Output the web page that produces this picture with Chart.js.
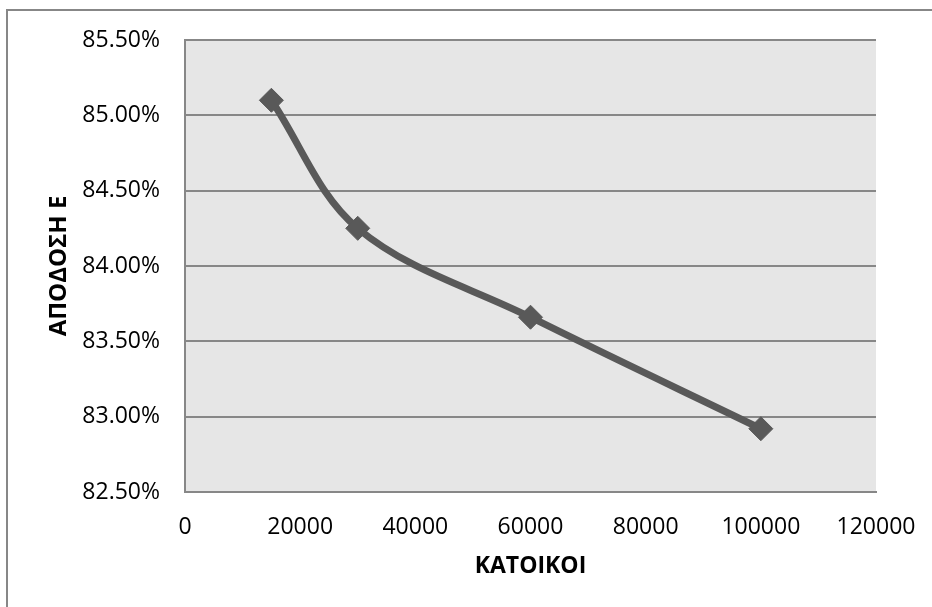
<!DOCTYPE html>
<html>
<head>
<meta charset="utf-8">
<title>ΑΠΟΔΟΣΗ Ε - ΚΑΤΟΙΚΟΙ</title>
<script src="https://cdn.jsdelivr.net/npm/chart.js@4.4.1/dist/chart.umd.min.js"></script>
<style>
    body { margin: 0; background: #fff; overflow: hidden; }
    #marco {
        position: absolute; left: 6px; top: 9px; width: 1000px; height: 700px;
        border-left: 2px solid #878787; border-top: 2px solid #878787;
    }
    #grafico { position: absolute; left: 0; top: 0; }
</style>
</head>
<body>
<div id="marco"></div>
<canvas id="grafico" width="932" height="607"></canvas>
<script>
// datos
const katoikoi = [15000, 30000, 60000, 100000];
const apodosi = [85.10, 84.25, 83.66, 82.92];
const xTicks = [0, 20000, 40000, 60000, 80000, 100000, 120000];
const yTicks = [82.5, 83.0, 83.5, 84.0, 84.5, 85.0, 85.5];

const fuente = "'Open Sans', 'Liberation Sans', sans-serif";
const gris = '#878787';

// fondo gris del area de trazado
const fondoArea = {
    id: 'fondoArea',
    beforeDraw(chart) {
        const a = chart.chartArea;
        const c = chart.ctx;
        c.save();
        c.fillStyle = '#e6e6e6';
        c.fillRect(a.left, a.top, a.right - a.left, a.bottom - a.top);
        c.restore();
    }
};

const ctx = document.getElementById('grafico').getContext('2d');

new Chart(ctx, {
    type: 'line',
    data: {
        datasets: [{
            label: 'ΑΠΟΔΟΣΗ Ε',
            data: katoikoi.map((x, i) => ({ x: x, y: apodosi[i] })),
            borderColor: '#595959',
            backgroundColor: '#595959',
            borderWidth: 7,
            tension: 0.35,
            pointStyle: 'rectRot',
            pointRadius: 12,
            pointBorderWidth: 1,
            pointHoverRadius: 12
        }]
    },
    options: {
        responsive: false,
        devicePixelRatio: 1,
        animation: false,
        layout: {
            padding: { left: 0, top: 40, right: 56, bottom: 0 }
        },
        plugins: {
            legend: { display: false },
            tooltip: { enabled: false }
        },
        scales: {
            x: {
                type: 'linear',
                min: xTicks[0],
                max: xTicks[xTicks.length - 1],
                afterFit: s => {
                    s.height = 115;
                    s.paddingLeft = 0;
                    s.paddingRight = 0;
                },
                afterBuildTicks: s => { s.ticks = xTicks.map(v => ({ value: v })); },
                grid: { display: false, drawTicks: false },
                border: { display: true, color: gris, width: 2 },
                ticks: {
                    padding: 22,
                    color: '#000',
                    font: { family: fuente, size: 23 },
                    callback: v => String(v)
                },
                title: {
                    display: true,
                    text: 'ΚΑΤΟΙΚΟΙ',
                    color: '#000',
                    font: { family: fuente, size: 23, weight: 'bold' },
                    padding: { top: 0, bottom: 27 }
                }
            },
            y: {
                min: yTicks[0],
                max: yTicks[yTicks.length - 1],
                afterFit: s => { s.width = 185; },
                afterBuildTicks: s => { s.ticks = yTicks.map(v => ({ value: v })); },
                grid: { color: gris, lineWidth: 2, drawTicks: false },
                border: { display: true, color: gris, width: 2 },
                ticks: {
                    padding: 25,
                    color: '#000',
                    font: { family: fuente, size: 23 },
                    callback: v => v.toFixed(2) + '%'
                },
                title: {
                    display: true,
                    text: 'ΑΠΟΔΟΣΗ Ε',
                    color: '#000',
                    font: { family: fuente, size: 24, weight: 'bold' },
                    padding: { top: 45, bottom: 0 }
                }
            }
        }
    },
    plugins: [fondoArea]
});
</script>
</body>
</html>
